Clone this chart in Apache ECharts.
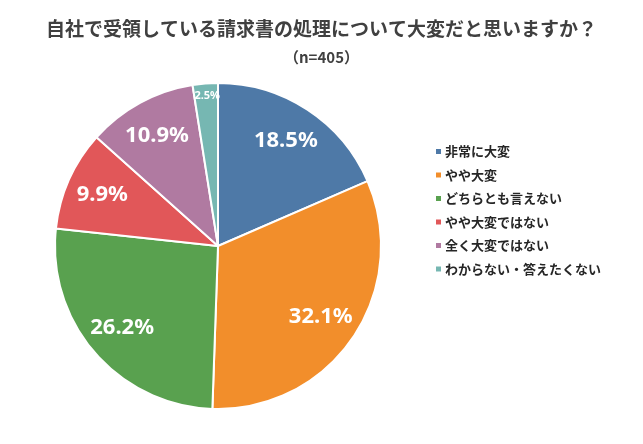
<!DOCTYPE html>
<html><head><meta charset="utf-8">
<script src="https://cdn.jsdelivr.net/npm/echarts@6/dist/echarts.min.js"></script>
<style>html,body{margin:0;padding:0;background:#fff}#c{width:643px;height:444px}</style>
</head><body><div id="c"></div>
<script>
const categories = ['非常に大変','やや大変','どちらとも言えない','やや大変ではない','全く大変ではない','わからない・答えたくない'];
const values = [18.5, 32.1, 26.2, 9.9, 10.9, 2.5];
const colors = ['#4E79A7','#F28E2B','#59A14F','#E15759','#B07AA1','#76B7B2'];
const titleText = '自社で受領している請求書の処理について大変だと思いますか？';
const subText = '（n=405）';

const data = categories.map((n,i)=>({name:n, value:values[i]}));
const font = '"Noto Sans CJK JP","Noto Sans",sans-serif';
const fmt = p => p.value.toFixed(1)+'%';
const chart = echarts.init(document.getElementById('c'));
chart.setOption({
  animation:false,
  color: colors,
  title:{text:titleText, subtext:subText, left:'center', top:14,
    textStyle:{fontFamily:font, fontSize:19, fontWeight:'bold', color:'#404040'},
    subtextStyle:{fontFamily:font, fontSize:15, fontWeight:'bold', color:'#404040'}, itemGap:12},
  legend:{orient:'vertical', left:429, top:140, itemWidth:7, itemHeight:7, itemGap:10.5, icon:'rect',
    data: categories, selectedMode:false,
    textStyle:{fontFamily:font, fontSize:13, fontWeight:'bold', color:'#262626', padding:[0,0,0,-2]}},
  series:[
    {type:'pie', center:[218,246], radius:[0,163], startAngle:90, clockwise:true,
     data:data, label:{show:false}, labelLine:{show:false},
     itemStyle:{borderColor:'#fff', borderWidth:2}, silent:true},
    {type:'pie', center:[217,246], radius:[82,163], startAngle:90, clockwise:true,
     avoidLabelOverlap:false, data:data.map((d,i)=> i===5 ? Object.assign({},d,{label:{show:false}}) : d),
     silent:true, legendHoverLink:false,
     itemStyle:{color:'rgba(0,0,0,0)'},
     label:{show:true, position:'inside', formatter:fmt,
       fontFamily:'"Noto Sans",sans-serif', fontSize:22, fontWeight:'bold', color:'#fff'},
     labelLayout:{hideOverlap:false}
    },
    {type:'pie', center:[219,246], radius:[132,163], startAngle:90, clockwise:true,
     avoidLabelOverlap:false, data:data.map((d,i)=> i===5 ? d : Object.assign({},d,{label:{show:false}})),
     silent:true, legendHoverLink:false,
     itemStyle:{color:'rgba(0,0,0,0)'},
     label:{show:true, position:'inside', formatter:fmt,
       fontFamily:'"Noto Sans",sans-serif', fontSize:11, fontWeight:'bold', color:'#fff'},
     labelLayout:{hideOverlap:false}
    }
  ]
});
</script></body></html>
